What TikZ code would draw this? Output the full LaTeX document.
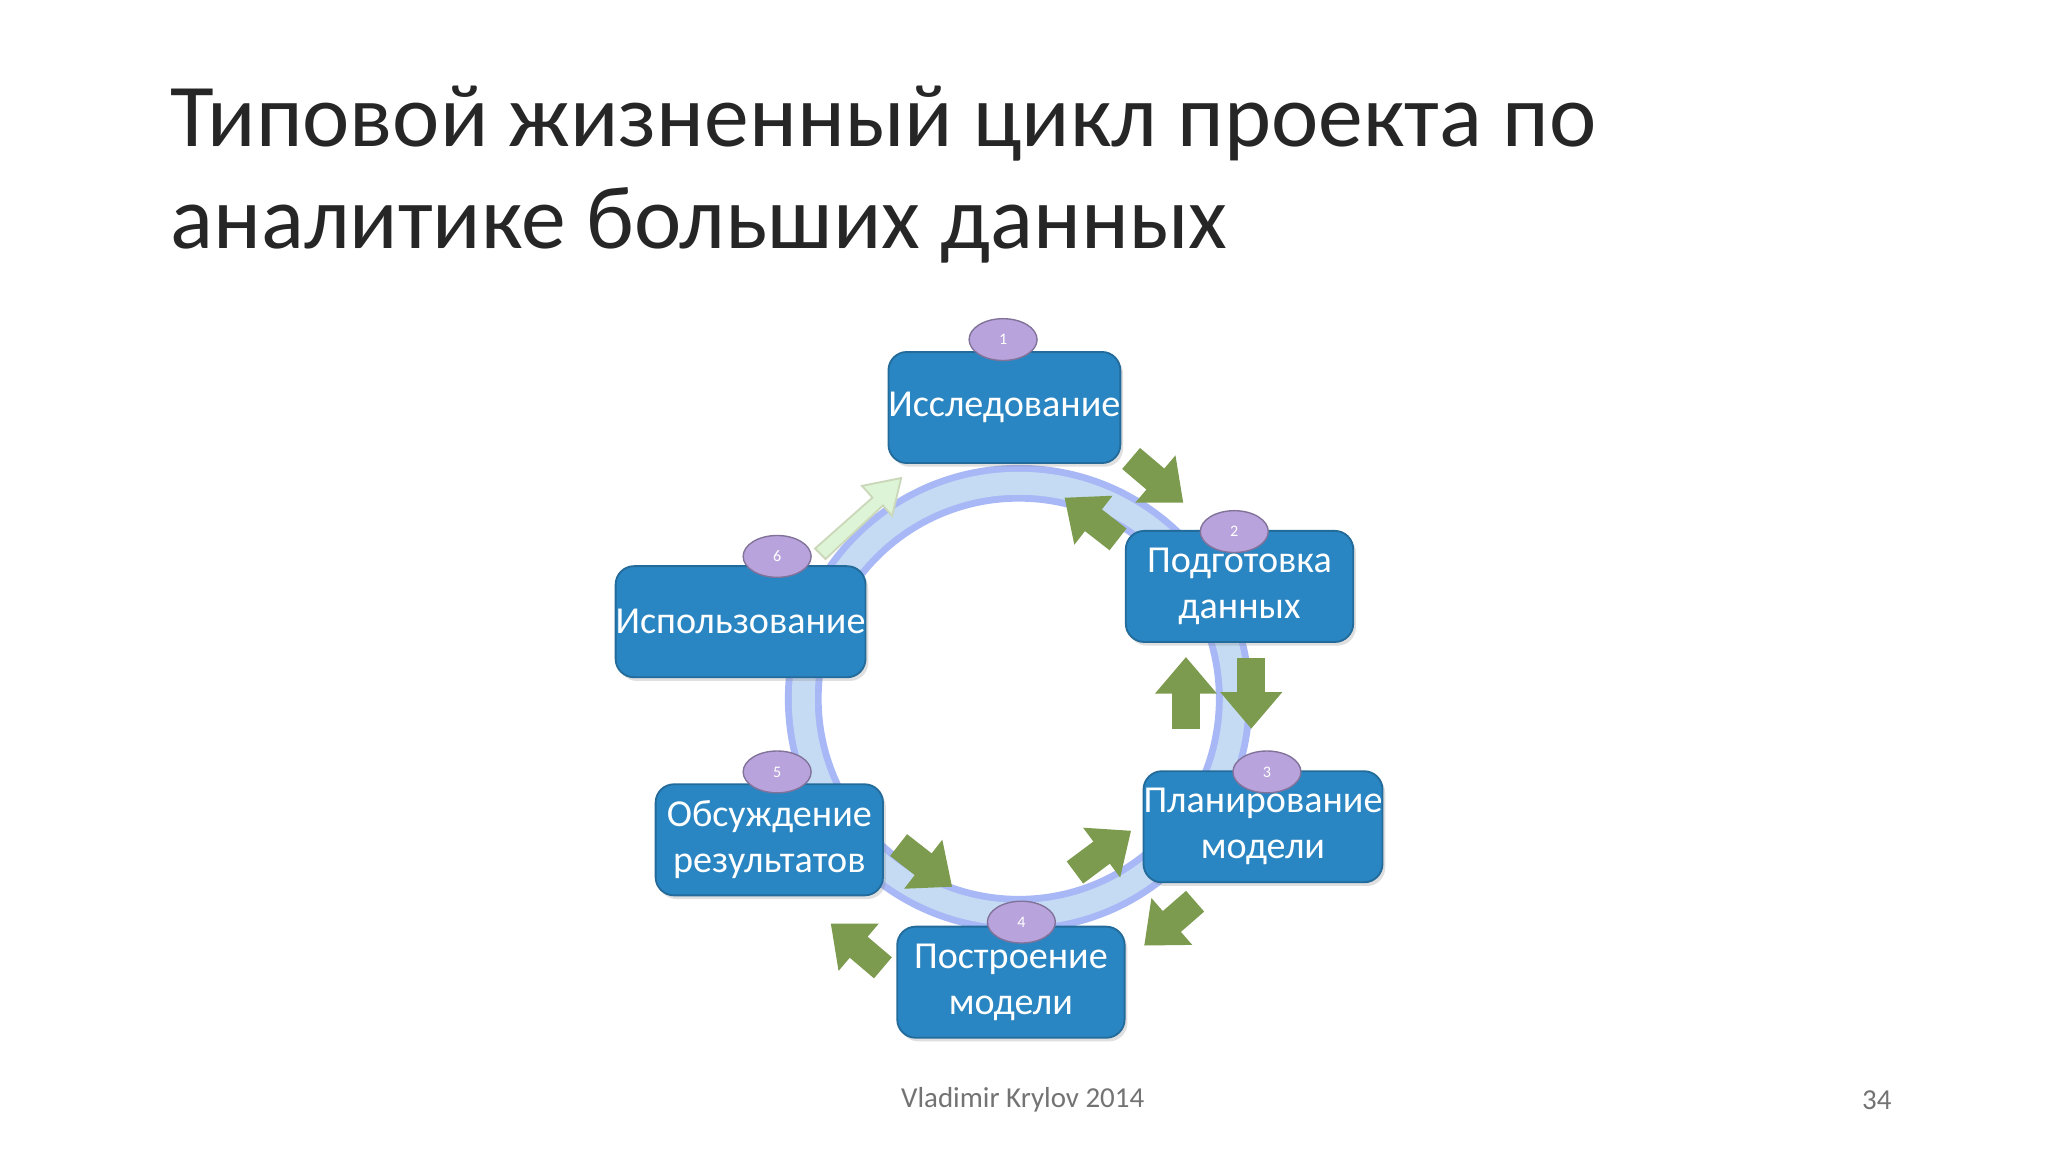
\documentclass[tikz,border=0pt]{standalone}
\usepackage{fontspec}
\setmainfont{Carlito}
\usetikzlibrary{arrows.meta,shadows}
\definecolor{boxblue}{HTML}{2A86C2}
\definecolor{ringblue}{HTML}{9CC3EA}
\definecolor{purp}{HTML}{B9A3DC}
\definecolor{agreen}{HTML}{7D9B4F}
\definecolor{lgreen}{HTML}{DDF5D6}
\tikzset{
 stage/.style={draw=boxblue!80!black, line width=0.4pt, fill=boxblue, rounded corners=4pt, text=white, align=center, font=\fontsize{8.3}{10}\selectfont, inner sep=0pt, drop shadow={opacity=0.25, shadow xshift=0.6pt, shadow yshift=-0.8pt}},
 num/.style={ellipse, draw=purp!70!black, line width=0.3pt, fill=purp, text=white, font=\fontsize{3.5}{4}\selectfont, minimum width=0.52cm, minimum height=0.32cm, inner sep=0pt},
 garrow/.style={agreen, line width=6pt, -{Triangle[width=13pt,length=8pt]}},
}
\usetikzlibrary{shapes.geometric}
\begin{document}
\begin{tikzpicture}[x=0.01cm,y=-0.01cm]
\useasboundingbox (0,0) rectangle (1568,882);
\fill[white] (0,0) rectangle (1568,882);
\node[anchor=base west, font=\fontsize{19.5}{23}\selectfont, text=black!85] (t1) at (118,112) {Типовой жизненный цикл проекта по};
\node[anchor=base west, font=\fontsize{19.5}{23}\selectfont, text=black!85] (t2) at (118,190) {аналитике больших данных};
% ring
\coordinate (c) at (780,535);
\draw[ringblue!70!blue!60, line width=8pt] (c) circle (165);
\draw[ringblue!60!white, line width=5pt] (c) circle (165);
% light arrow 6 -> 1
\draw[lgreen, draw=agreen!40, line width=0.4pt, fill=lgreen] (624,420) -- (668,381) -- (660,372) -- (690,366) -- (683,395) -- (676,387) -- (632,428) -- cycle;
% boxes
\node[stage, minimum width=1.74cm, minimum height=0.85cm] (s1) at (769,312) {Исследование};
\node[stage, minimum width=1.74cm, minimum height=0.85cm] (s2) at (949,449) {Подготовка\\данных};
\node[stage, minimum width=1.74cm, minimum height=0.85cm] (s3) at (967,633) {Планирование\\модели};
\node[stage, minimum width=1.74cm, minimum height=0.85cm] (s4) at (774,752) {Построение\\модели};
\node[stage, minimum width=1.74cm, minimum height=0.85cm] (s5) at (589,643) {Обсуждение\\результатов};
\node[stage, minimum width=1.89cm, minimum height=0.85cm] (s6) at (567,476) {Использование};
% numbers
\node[num] (n1) at (768,260) {1};
\node[num] (n2) at (945,407) {2};
\node[num] (n3) at (970,591) {3};
\node[num] (n4) at (782,706) {4};
\node[num] (n5) at (595,591) {5};
\node[num] (n6) at (595,426) {6};
% green arrows
\coordinate (a1s) at (866,351); \coordinate (a1e) at (906,385);
\coordinate (b1s) at (856,413); \coordinate (b1e) at (815,381);
\coordinate (a2s) at (958,504); \coordinate (a2e) at (958,558);
\coordinate (b2s) at (908,558); \coordinate (b2e) at (908,503);
\coordinate (a3s) at (915,690); \coordinate (a3e) at (876,724);
\coordinate (b3s) at (823,668); \coordinate (b3e) at (866,636);
\coordinate (a4s) at (688,647); \coordinate (a4e) at (729,679);
\coordinate (b4s) at (676,741); \coordinate (b4e) at (636,707);
\foreach \p in {1,2,3,4}{
 \draw[garrow] (a\p s) -- (a\p e);
 \draw[garrow] (b\p s) -- (b\p e);
}
% footer
\node[font=\fontsize{6.3}{7}\selectfont, text=black!55] (f1) at (783,842) {Vladimir Krylov 2014};
\node[font=\fontsize{6.3}{7}\selectfont, text=black!55] (f2) at (1437,842) {34};
\end{tikzpicture}
\end{document}
